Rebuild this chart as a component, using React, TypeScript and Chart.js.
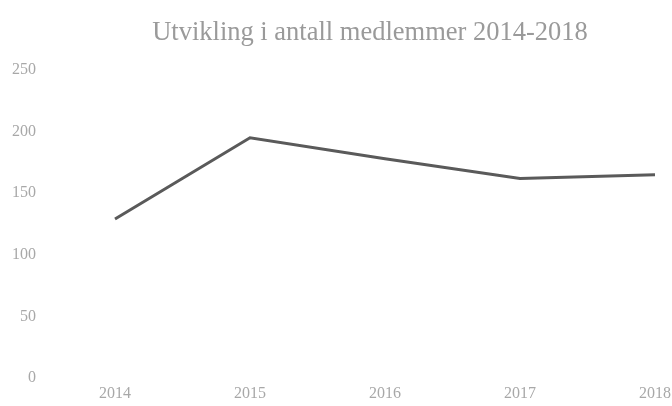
import React, { useEffect, useRef } from "react";
import { Chart, registerables } from "chart.js";

Chart.register(...registerables);

const titleText = "Utvikling i antall medlemmer 2014-2018";
const years = ["2014", "2015", "2016", "2017", "2018"];
const members = [129, 195, 178, 162, 165];
const yTicks = [0, 50, 100, 150, 200, 250];

const FONT = "'Liberation Serif', 'DejaVu Serif', serif";

const titlePlugin = {
  id: "customTitle",
  afterDraw(chart: any) {
    const ctx = chart.ctx;
    ctx.save();
    ctx.font = "26.5px " + FONT;
    ctx.fillStyle = "#9a9a9a";
    ctx.textAlign = "center";
    ctx.textBaseline = "middle";
    const cx = (chart.chartArea.left + chart.chartArea.right) / 2 - 15;
    ctx.fillText(titleText, cx, 33);
    ctx.restore();
  },
};

export default function App() {
  const ref = useRef<HTMLCanvasElement | null>(null);
  useEffect(() => {
    if (!ref.current) return;
    const chart = new Chart(ref.current, {
      type: "line",
      data: {
        labels: years,
        datasets: [
          {
            data: members,
            borderColor: "#5a5a5a",
            borderWidth: 3,
            pointRadius: 0,
            tension: 0,
            fill: false,
          },
        ],
      },
      options: {
        animation: false,
        responsive: false,
        layout: { padding: { left: 0, right: 17, top: 70, bottom: 0 } },
        plugins: { legend: { display: false }, title: { display: false }, tooltip: { enabled: false } },
        scales: {
          x: {
            offset: false,
            grid: { display: false, drawTicks: false },
            border: { display: false },
            ticks: {
              color: "#a8a8a8",
              font: { family: FONT, size: 16 },
              padding: 6,
              maxRotation: 0,
              autoSkip: false,
            },
            afterFit: (s: any) => {
              s.height = 28;
              s.paddingLeft = 0;
              s.paddingRight = 0;
            },
          },
          y: {
            min: 0,
            max: 250,
            afterBuildTicks: (s: any) => {
              s.ticks = yTicks.map((v) => ({ value: v }));
            },
            grid: { display: false, drawTicks: false },
            border: { display: false },
            ticks: {
              color: "#a8a8a8",
              font: { family: FONT, size: 16 },
              padding: 79,
            },
            afterFit: (s: any) => {
              s.width = 115;
              s.paddingTop = 0;
              s.paddingBottom = 0;
            },
          },
        },
      },
      plugins: [titlePlugin],
    });
    return () => chart.destroy();
  }, []);
  return (
    <div style={{ position: "fixed", left: 0, top: 0, width: 672, height: 406 }}>
      <canvas ref={ref} width={672} height={406} style={{ width: 672, height: 406 }} />
    </div>
  );
}
